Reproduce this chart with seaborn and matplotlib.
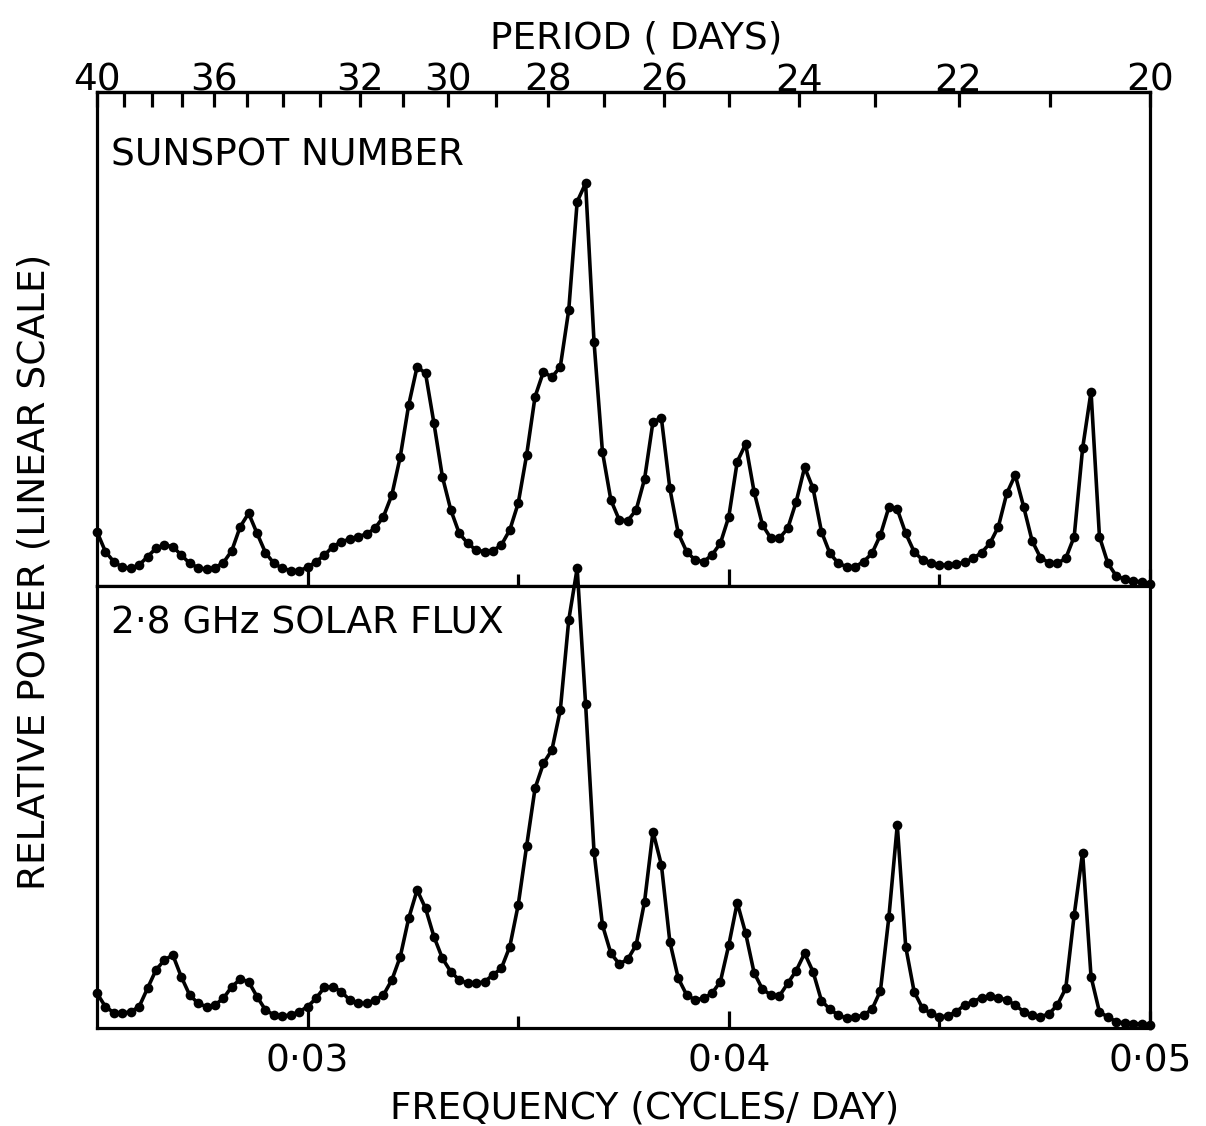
import numpy as np
import matplotlib
matplotlib.use("Agg")
import matplotlib.pyplot as plt
import seaborn as sns
from matplotlib.ticker import FixedLocator

# Periodogram of daily solar indices: relative power (linear units)
# sampled every 0.0002 cycles/day from 0.025 to 0.050.
freq = np.round(0.025 + 0.0002 * np.arange(126), 4)

sunspot_power = [
    54.3, 34.3, 24.3, 18.7, 17.7, 21.0, 29.3, 37.7, 41.0, 39.3,
    31.0, 22.7, 18.3, 16.7, 18.3, 23.3, 35.3, 59.3, 72.7, 52.7,
    33.3, 22.7, 17.7, 15.3, 15.3, 18.7, 24.3, 31.0, 39.3, 44.3,
    46.7, 49.3, 52.0, 57.7, 69.3, 91.0, 129.3, 181.0, 219.3, 212.7,
    162.7, 109.3, 76.0, 52.7, 42.7, 36.0, 34.3, 35.3, 41.0, 56.0,
    82.7, 131.0, 189.3, 214.3, 208.7, 219.3, 276.0, 384.3, 402.7, 244.3,
    134.3, 86.0, 66.0, 65.3, 76.0, 107.0, 164.3, 167.7, 97.7, 52.7,
    34.3, 26.0, 24.3, 31.0, 42.7, 69.3, 124.3, 142.0, 94.3, 61.0,
    47.7, 47.7, 57.7, 84.3, 118.7, 97.7, 54.3, 32.7, 22.7, 19.3,
    19.3, 24.3, 32.7, 51.0, 78.7, 76.7, 52.7, 34.3, 26.0, 22.7,
    21.0, 21.0, 22.0, 23.7, 27.7, 33.3, 42.7, 59.3, 92.7, 111.0,
    79.3, 45.3, 28.3, 23.3, 22.7, 27.7, 49.3, 137.7, 194.3, 49.3,
    22.7, 10.0, 6.7, 5.3, 4.0, 2.0,
]

flux_power = [
    34.7, 21.3, 15.3, 14.7, 16.3, 21.3, 39.7, 58.0, 68.0, 73.0,
    51.3, 33.0, 24.7, 21.3, 23.0, 29.7, 41.3, 48.7, 46.3, 31.3,
    18.0, 13.0, 12.0, 13.0, 16.3, 21.3, 29.7, 40.7, 41.3, 36.3,
    28.0, 24.7, 24.7, 28.0, 33.0, 48.0, 71.3, 109.7, 138.0, 119.7,
    91.3, 69.7, 56.3, 48.0, 44.7, 44.7, 46.3, 53.0, 59.7, 81.3,
    123.0, 182.0, 239.7, 264.7, 278.0, 318.0, 408.0, 459.7, 324.0, 176.3,
    103.0, 74.7, 64.0, 68.7, 83.0, 126.3, 196.3, 163.0, 86.3, 49.7,
    33.0, 28.0, 29.7, 34.7, 46.3, 83.0, 125.3, 94.7, 55.3, 38.7,
    33.0, 32.0, 44.7, 57.3, 74.7, 56.3, 27.3, 18.7, 13.0, 9.7,
    10.7, 13.0, 18.7, 37.3, 110.7, 203.0, 81.3, 36.3, 19.7, 14.7,
    11.3, 12.0, 16.3, 23.0, 26.3, 30.3, 32.0, 30.3, 28.0, 23.0,
    16.3, 13.0, 11.3, 14.0, 23.0, 39.7, 113.0, 175.3, 51.3, 16.0,
    11.0, 6.3, 5.0, 4.5, 4.0, 3.0,
]

freq_major = [0.03, 0.04, 0.05]
freq_labels = ["0·03", "0·04", "0·05"]
freq_minor = [0.035, 0.045]
period_major = [40, 36, 32, 30, 28, 26, 24, 22, 20]
period_minor = [39, 38, 37, 35, 34, 33, 31, 29, 27, 25, 23, 21]

panel_titles = ["SUNSPOT NUMBER", "2·8 GHz SOLAR FLUX"]

sns.set_style("white")
plt.rcParams["font.family"] = ["DejaVu Sans"]
plt.rcParams["text.color"] = "black"
plt.rcParams["axes.labelcolor"] = "black"
plt.rcParams["xtick.color"] = "black"
plt.rcParams["ytick.color"] = "black"

FS = 27
LW = 2.3

W, H = 1206, 1126
fig = plt.figure(figsize=(W / 100, H / 100), dpi=100)


def box(left, top, right, bottom):
    return [left / W, 1 - bottom / H, (right - left) / W, (bottom - top) / H]


ax_top = fig.add_axes(box(97, 92, 1150, 586))
ax_bot = fig.add_axes(box(97, 586, 1150, 1028))

for ax, vals, ymax in ((ax_top, sunspot_power, 494), (ax_bot, flux_power, 442)):
    sns.lineplot(x=freq, y=vals, ax=ax, color="black", linewidth=2.6,
                 marker="o", markersize=7, markeredgewidth=0, clip_on=False)
    ax.set_xlim(0.025, 0.05)
    ax.set_ylim(0, ymax)
    ax.set_yticks([])
    ax.set_xlabel("")
    ax.set_ylabel("")
    for s in ax.spines.values():
        s.set_visible(True)
        s.set_color("black")
        s.set_linewidth(LW)
    ax.xaxis.set_major_locator(FixedLocator(freq_major))
    ax.xaxis.set_minor_locator(FixedLocator(freq_minor))
    ax.tick_params(axis="x", which="major", direction="in", length=12.5,
                   width=LW, top=False, bottom=True, color="black",
                   labelcolor="black")
    ax.tick_params(axis="x", which="minor", direction="in", length=8.5,
                   width=LW, top=False, bottom=True, color="black")

ax_top.tick_params(axis="x", which="both", labelbottom=False)
ax_bot.set_xticks(freq_major, labels=freq_labels)
ax_bot.tick_params(axis="x", which="major", labelsize=FS, pad=11.5)


def to_period(f):
    f = np.asarray(f, dtype=float)
    with np.errstate(divide="ignore"):
        return 1.0 / f


secax = ax_top.secondary_xaxis("top", functions=(to_period, to_period))
secax.xaxis.set_major_locator(FixedLocator(period_major))
secax.xaxis.set_minor_locator(FixedLocator(period_minor))
secax.set_xticks(period_major, labels=[str(p) for p in period_major])
secax.tick_params(axis="x", which="both", direction="in", length=11,
                  width=LW, color="black", labelcolor="black")
secax.tick_params(axis="x", which="major", labelsize=FS, pad=-5)
secax.spines["top"].set_linewidth(LW)
secax.spines["top"].set_color("black")

fig.text(111 / W, 1 - 165 / H, panel_titles[0], ha="left", va="baseline",
         fontsize=FS, color="black")
fig.text(111 / W, 1 - 633 / H, panel_titles[1], ha="left", va="baseline",
         fontsize=FS, color="black")

fig.text(636 / W, 1 - 48 / H, "PERIOD ( DAYS)", ha="center", va="baseline",
         fontsize=FS, color="black")
fig.text(645 / W, 1 - 1119 / H, "FREQUENCY (CYCLES/ DAY)", ha="center",
         va="baseline", fontsize=FS, color="black")
fig.text(35 / W, 1 - 572 / H, "RELATIVE POWER (LINEAR SCALE)", rotation=90,
         ha="center", va="center", fontsize=FS, color="black")

fig.savefig("out.png", dpi=100)
